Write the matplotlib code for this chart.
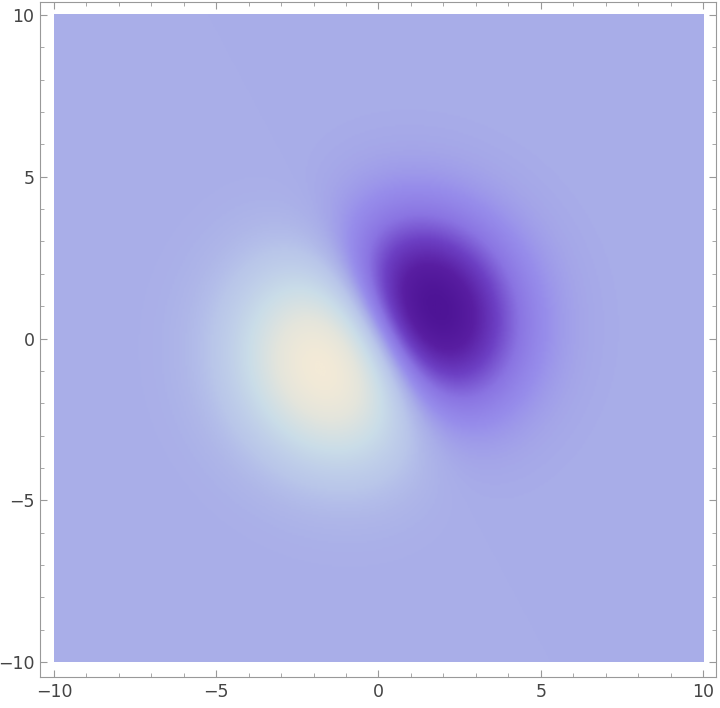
import numpy as np
import matplotlib
matplotlib.use("Agg")
import matplotlib.pyplot as plt
from matplotlib.colors import LinearSegmentedColormap

# field: one dark lobe, one light lobe mirrored through the origin
dark_peak = [1.8, 0.95]     # (x, y) of the darkest point
lobe_width = 2.05           # gaussian width of the lobes
plot_range = [-10, 10]
grid_n = 400

# colour stops
stop_pos = [0.0, 0.1, 0.22, 0.33, 0.42, 0.5, 0.58, 0.72, 0.87, 1.0]
stop_col = ["#4e1496", "#591ea2", "#6d40c4", "#8a74e2", "#978deb", "#a9aee8",
            "#b9c6ea", "#cadde8", "#e4e5dc", "#f3ead7"]

major_ticks = [-10, -5, 0, 5, 10]
minor_ticks = np.arange(-10, 11, 1)

cmap = LinearSegmentedColormap.from_list("density", list(zip(stop_pos, stop_col)))

xs = np.linspace(plot_range[0], plot_range[1], grid_n)
X, Y = np.meshgrid(xs, xs)
d = np.array(dark_peak) / np.hypot(*dark_peak)
Z = -(X * d[0] + Y * d[1]) * np.exp(-(X**2 + Y**2) / (2 * lobe_width**2))
zmax = np.abs(Z).max()

fig = plt.figure(figsize=(7.2, 7.08), dpi=100)
ax = fig.add_axes([40 / 720, 31 / 708, 676 / 720, 675 / 708])
ax.imshow(Z, origin="lower", extent=[-10, 10, -10, 10], cmap=cmap,
          vmin=-zmax, vmax=zmax, interpolation="bilinear", aspect="auto")

ax.set_xlim(-10.43, 10.40)
ax.set_ylim(-10.46, 10.40)
ax.set_xticks(major_ticks)
ax.set_yticks(major_ticks)
ax.set_xticks(minor_ticks, minor=True)
ax.set_yticks(minor_ticks, minor=True)
ax.tick_params(which="both", direction="in", top=True, right=True,
               color="#999999", labelsize=12.5, labelcolor="#444444", pad=4)
ax.tick_params(which="major", length=5, width=0.8)
ax.tick_params(which="minor", length=3, width=0.6)
for s in ax.spines.values():
    s.set_color("#999999")
    s.set_linewidth(0.8)

fig.savefig("out.png", dpi=100)
